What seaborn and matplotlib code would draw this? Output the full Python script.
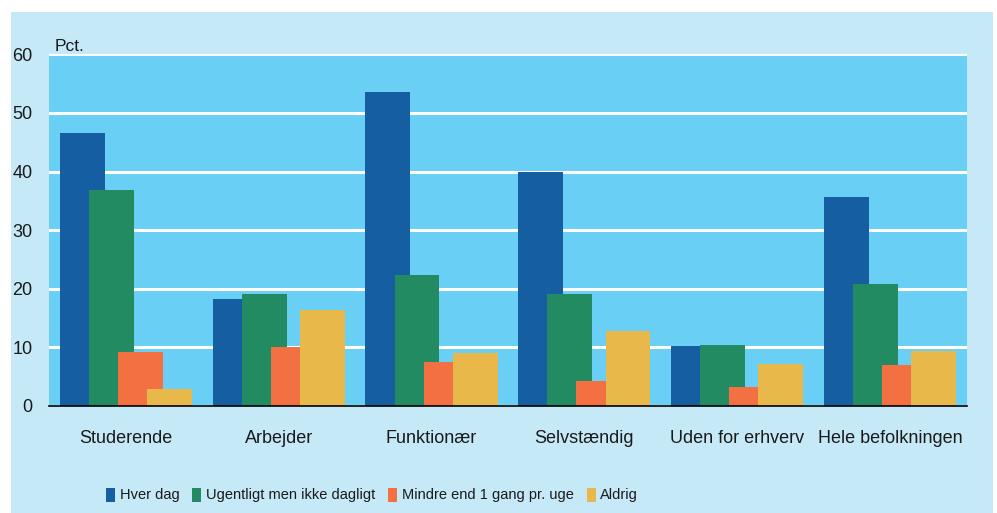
import seaborn as sns
import matplotlib.pyplot as plt
import matplotlib.patches as mpatches
import pandas as pd

# categories and series
kategorier = ["Studerende", "Arbejder", "Funktionær", "Selvstændig",
              "Uden for erhverv", "Hele befolkningen"]
serier = ["Hver dag", "Ugentligt men ikke dagligt",
          "Mindre end 1 gang pr. uge", "Aldrig"]
hver_dag = [46.5, 18.3, 53.5, 40.0, 10.3, 35.6]
ugentligt = [36.9, 19.1, 22.4, 19.1, 10.4, 20.9]
mindre = [9.2, 10.1, 7.5, 4.3, 3.2, 7.0]
aldrig = [2.9, 16.4, 9.1, 12.8, 7.2, 9.4]
y_ticks = [0, 10, 20, 30, 40, 50, 60]

farver = ["#155ea2", "#228b62", "#f37043", "#e8b84a"]
plot_bg = "#6acff5"
outer_bg = "#c6e9f8"

rows = []
for navn, vals in zip(serier, [hver_dag, ugentligt, mindre, aldrig]):
    for kat, v in zip(kategorier, vals):
        rows.append({"kategori": kat, "serie": navn, "pct": v})
df = pd.DataFrame(rows)

sns.set_style("white")
plt.rcParams["font.family"] = ["Liberation Sans", "DejaVu Sans"]
plt.rcParams["text.color"] = "#1a1a1a"

fig = plt.figure(figsize=(9.97, 5.13), dpi=100, facecolor="white")
# light blue panel behind everything
fig.patches.append(mpatches.Rectangle((11 / 997, 0), 982 / 997, 501 / 513,
                                      transform=fig.transFigure,
                                      facecolor=outer_bg, edgecolor="none",
                                      zorder=-10))

ax = fig.add_axes([0.0495, 0.2086, 0.920, 0.6854])
ax.set_facecolor(plot_bg)

sns.barplot(data=df, x="kategori", y="pct", hue="serie", hue_order=serier,
            order=kategorier, palette=farver, saturation=1, width=0.76,
            ax=ax, legend=True)

# widen the bars so they overlap like the original
bar_w = 0.294
for cont in ax.containers:
    for p in cont:
        c = p.get_x() + p.get_width() / 2
        p.set_width(bar_w)
        p.set_x(c - bar_w / 2)
        p.set_edgecolor("none")

ax.set_xlim(-0.5, 5.5)
ax.set_ylim(0, 60)
ax.set_yticks(y_ticks)
ax.yaxis.grid(True, color="white", linewidth=2.2)
ax.set_axisbelow(True)
for s in ["top", "right", "left"]:
    ax.spines[s].set_visible(False)
ax.spines["bottom"].set_color("black")
ax.spines["bottom"].set_linewidth(1.2)
ax.spines["bottom"].set_zorder(5)
ax.tick_params(axis="y", length=0, pad=12, labelsize=13, labelcolor="#1a1a1a")
ax.tick_params(axis="x", length=0, pad=17, labelsize=13, labelcolor="#1a1a1a")
ax.set_xlabel("")
ax.set_ylabel("")
ax.annotate("Pct.", xy=(0, 1), xycoords="axes fraction", xytext=(4.1, 2.6),
            textcoords="offset points", fontsize=12.5, ha="left", va="baseline")

handles, labels = ax.get_legend_handles_labels()
ax.get_legend().remove()
leg = fig.legend(handles, labels, loc="center", ncol=4,
                 bbox_to_anchor=(372 / 997, 1 - 495 / 513), frameon=False,
                 fontsize=10.5, handlelength=0.62, handleheight=1.1,
                 handletextpad=0.3, columnspacing=0.9)
for h in leg.legend_handles:
    h.set_edgecolor("none")

fig.savefig("out.png", dpi=100, facecolor=fig.get_facecolor())
